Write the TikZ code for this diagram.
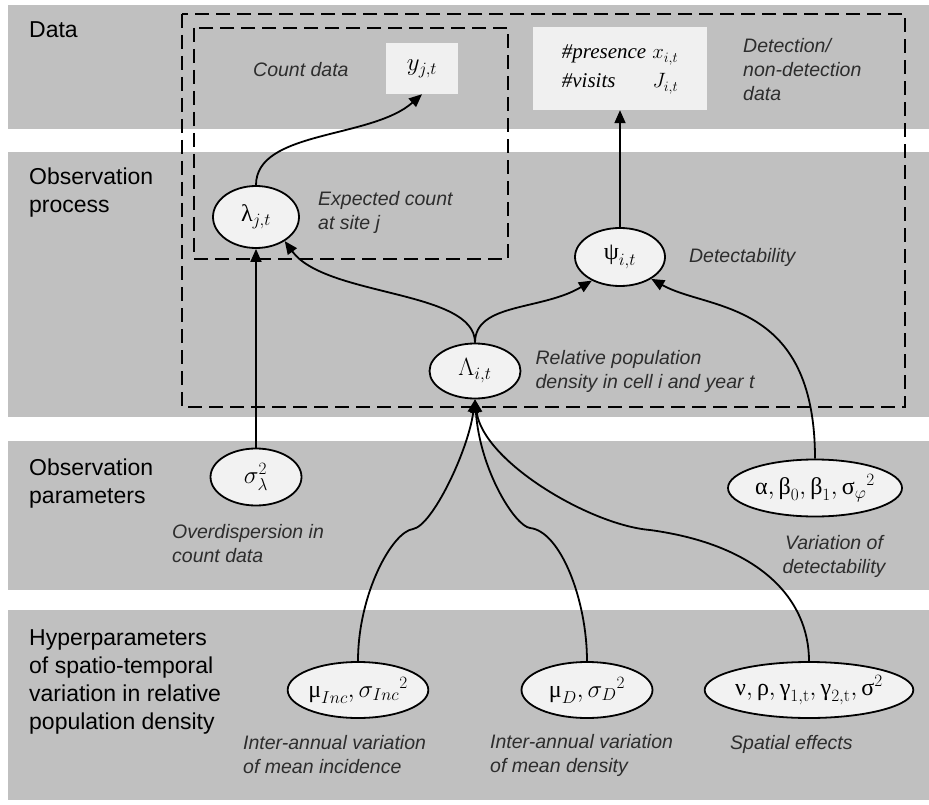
\documentclass[tikz,border=0pt]{standalone}
\usepackage{amsmath}
\usepackage[no-math]{fontspec}
\setmainfont{Liberation Sans}
\newfontfamily\grkfont{Liberation Serif}
\usetikzlibrary{shapes.geometric, arrows.meta, positioning}
\definecolor{bandgray}{RGB}{192,192,192}
\definecolor{nodefill}{RGB}{242,242,242}
\definecolor{boxfill}{RGB}{240,240,240}
\definecolor{notegray}{RGB}{45,45,45}
\newcommand{\gk}[1]{\text{\grkfont #1}}

\begin{document}
\begin{tikzpicture}[
    x=1pt, y=-1pt,
    band/.style={fill=bandgray, draw=none},
    param/.style={ellipse, draw, line width=1.8pt, fill=nodefill, minimum width=#1, minimum height=57pt, inner sep=0pt, font=\fontsize{24}{28}\selectfont},
    param/.default=91pt,
    databox/.style={rectangle, fill=boxfill, inner sep=0pt, font=\fontsize{24}{28}\selectfont},
    rowlabel/.style={anchor=west, align=left, inner sep=0pt, font=\fontsize{23}{28}\selectfont},
    note/.style={anchor=west, align=left, inner sep=0pt, text=notegray, font=\fontsize{19.5}{24}\selectfont\itshape},
    plate/.style={draw, line width=2pt, dash pattern=on 14pt off 7pt},
    link/.style={-{Triangle[length=13pt, width=11pt]}, line width=1.8pt},
]
    \useasboundingbox (0,0) rectangle (929,805);

    % Bands
    \fill[band] (8,5) rectangle (929,129);
    \fill[band] (8,152) rectangle (929,417);
    \fill[band] (8,441) rectangle (929,590);
    \fill[band] (8,610) rectangle (929,800);

    \node[rowlabel] (rdata) at (29,30) {Data};
    \node[rowlabel] (robs) at (29,193) {Observation\\process};
    \node[rowlabel] (rpar) at (29,484) {Observation\\parameters};
    \node[rowlabel] (rhyp) at (29,682) {Hyperparameters\\of spatio-temporal\\variation in relative\\population density};

    % Plates
    \draw[plate] (182,14) rectangle (905,407);
    \draw[plate] (194,28) rectangle (508,259);

    % Data
    \node[databox, minimum width=72pt, minimum height=51pt] (ybox) at (422,68.5) {$y_{j,t}$};
    \node[databox, minimum width=174pt, minimum height=83pt, font=\fontsize{21}{25}\selectfont] (detbox) at (620,68.5) {%
        \begin{tabular}{@{}l@{\hspace{6pt}}r@{}}
        {\grkfont\itshape \#presence} & $x_{i,t}$\\[4pt]
        {\grkfont\itshape \#visits} & $J_{i,t}$
        \end{tabular}};
    \node[note] (countnote) at (253,70) {Count data};
    \node[note] (detnote) at (743,70) {Detection/\\non-detection\\data};

    % Observation process
    \node[param=86pt, minimum height=62pt] (lam) at (256,217) {$\gk{λ}_{j,t}$};
    \node[param=90pt, minimum height=58pt] (psi) at (620,257) {$\gk{ψ}_{i,t}$};
    \node[param, minimum height=55pt] (Lam) at (475,371) {$\Lambda_{i,t}$};
    \node[note] (lamnote) at (318,212) {Expected count\\at site \textit{j}};
    \node[note, right=23pt of psi] (psinote) {Detectability};
    \node[note, right=14pt of Lam] (Lamnote) {Relative population\\density in cell i and year t};

    % Observation parameters
    \node[param] (sig) at (256,477) {$\sigma_{\lambda}^{2}$};
    \node[param=174pt] (alpha) at (815,488) {$\gk{α}, \gk{β}_0, \gk{β}_1, \gk{σ}_{\varphi}{}^{2}$};
    \node[note] (signote) at (172,544) {Overdispersion in\\count data};
    \node[note, anchor=center, align=center] (alphanote) at (834,556) {Variation of\\detectability};

    % Hyperparameters
    \node[param=131pt, minimum height=56pt] (muInc) at (358,690) {$\gk{μ}_{Inc}, \sigma_{Inc}{}^{2}$};
    \node[param=131pt, minimum height=56pt] (muD) at (587,690) {$\gk{μ}_{D}, \sigma_{D}{}^{2}$};
    \node[param=199pt, minimum height=56pt] (nu) at (809,690) {$\gk{ν}, \gk{ρ}, \gk{γ}_{1,\mathrm{t}}, \gk{γ}_{2,\mathrm{t}}, \gk{σ}^{2}$};
    \node[note] (incnote) at (243,755) {Inter-annual variation\\of mean incidence};
    \node[note] (dnote) at (490,755) {Inter-annual variation\\of mean density};
    \node[note] (nunote) at (730,744) {Spatial effects};

    % Links
    \draw[link] (lam.north) .. controls +(0,-55) and +(-51,45) .. (ybox.south);
    \draw[link] (psi.north) -- (detbox.south);
    \draw[link] (Lam.north) .. controls +(0,-53) and +(41,56) .. (lam.-40);
    \draw[link] (Lam.north) .. controls +(0,-40) and +(-50,30) .. (psi.-140);
    \draw[link] (alpha.north) .. controls +(0,-160) and +(57,32) .. (psi.-35);
    \draw[link] (sig.north) -- (lam.south);

    \coordinate (kneeInc) at (413,529);
    \coordinate (kneeD) at (530,528);
    \coordinate (kneeNu) at (650,530);
    \draw[link] (muInc.north) .. controls +(0,-67) and +(-21,3) .. (kneeInc) .. controls +(19,-3) and +(-7,52) .. (Lam.south);
    \draw[link] (muD.north) .. controls +(0,-62) and +(30,3) .. (kneeD) .. controls +(-15,-2) and +(5,71) .. (Lam.south);
    \draw[link] (nu.north) .. controls +(0,-62) and +(110,15) .. (kneeNu) .. controls +(-60,-5) and +(8,62) .. (Lam.south);
\end{tikzpicture}
\end{document}
